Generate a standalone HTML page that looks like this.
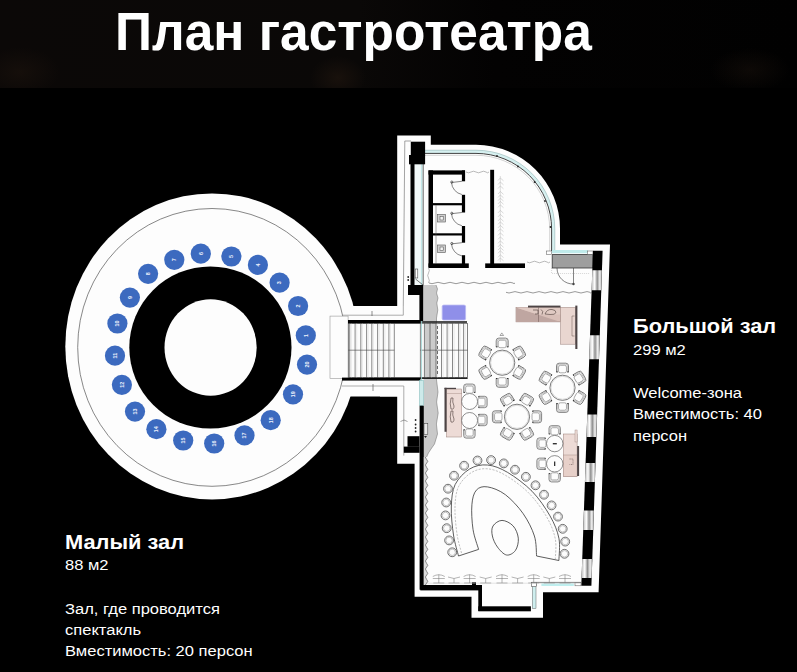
<!DOCTYPE html>
<html><head><meta charset="utf-8"><title>План гастротеатра</title>
<style>
html,body{margin:0;padding:0;background:#000;}
body{width:797px;height:672px;overflow:hidden;position:relative;font-family:"Liberation Sans",sans-serif;color:#fff;}
svg{position:absolute;left:0;top:0;}
.t{position:absolute;white-space:nowrap;transform-origin:0 0;}
#title{left:115px;top:2.2px;font-size:53px;font-weight:bold;line-height:60px;transform:scaleX(0.971);}
.h{font-size:20px;font-weight:bold;line-height:24px;transform:scaleX(1.09);}
.p{font-size:15.5px;line-height:21.3px;transform:scaleX(1.066);}
</style></head><body>
<svg width="797" height="672" viewBox="0 0 797 672" font-family="Liberation Sans, sans-serif">
<defs><linearGradient id="wg" x1="0" x2="1" y1="0" y2="0"><stop offset="0" stop-color="#bdbdbd"/><stop offset="0.3" stop-color="#ffffff"/><stop offset="0.55" stop-color="#8f8f8f"/><stop offset="0.8" stop-color="#f2f2f2"/><stop offset="1" stop-color="#a0a0a0"/></linearGradient><linearGradient id="hb" x1="0" x2="1" y1="0" y2="0"><stop offset="0" stop-color="#0b0807"/><stop offset="0.45" stop-color="#0a0807"/><stop offset="0.62" stop-color="#030202"/><stop offset="1" stop-color="#010101"/></linearGradient><radialGradient id="g1"><stop offset="0" stop-color="#1c130d"/><stop offset="1" stop-color="#1c130d" stop-opacity="0"/></radialGradient></defs>
<rect x="0" y="0" width="797" height="88" fill="url(#hb)"/><ellipse cx="338" cy="78" rx="28" ry="22" fill="url(#g1)" opacity="0.8"/><ellipse cx="20" cy="72" rx="40" ry="25" fill="url(#g1)" opacity="0.6"/><ellipse cx="750" cy="70" rx="40" ry="22" fill="url(#g1)" opacity="0.45"/><rect x="0" y="88" width="797" height="40" fill="#000"/>
<ellipse cx="212" cy="346.4" rx="146.7" ry="153" fill="#fdfdfd"/>
<rect x="330" y="306" width="100" height="90.5" fill="#fdfdfd"/>
<path d="M397.2 135.6 H430.8 V144.8 H476 A84 84 0 0 1 560 229 V244.4 H610 L598.6 592.2 H543 V617.8 H471.5 V596.7 H414.6 V463.8 H397.2 V396.6 H380 V306.4 H397.2 Z" fill="#fdfdfd"/>
<ellipse cx="212" cy="347.4" rx="134.3" ry="138.9" fill="none" stroke="#555" stroke-width="0.7"/>
<circle cx="210.4" cy="347.5" r="81.1" fill="#000"/>
<ellipse cx="210.6" cy="347.5" rx="46.1" ry="48.3" fill="#fdfdfd"/>
<circle cx="305.8" cy="335.4" r="10.1" fill="#3c6abf"/>
<text x="305.8" y="337.2" font-size="5.4" font-weight="bold" fill="#eef2fc" text-anchor="middle" transform="rotate(-90 305.8 335.4)">1</text>
<circle cx="298.1" cy="306" r="10.1" fill="#3c6abf"/>
<text x="298.1" y="307.8" font-size="5.4" font-weight="bold" fill="#eef2fc" text-anchor="middle" transform="rotate(-90 298.1 306)">2</text>
<circle cx="279.6" cy="282.7" r="10.1" fill="#3c6abf"/>
<text x="279.6" y="284.5" font-size="5.4" font-weight="bold" fill="#eef2fc" text-anchor="middle" transform="rotate(-90 279.6 282.7)">3</text>
<circle cx="257.9" cy="264.9" r="10.1" fill="#3c6abf"/>
<text x="257.9" y="266.7" font-size="5.4" font-weight="bold" fill="#eef2fc" text-anchor="middle" transform="rotate(-90 257.9 264.9)">4</text>
<circle cx="231.4" cy="256.5" r="10.1" fill="#3c6abf"/>
<text x="231.4" y="258.3" font-size="5.4" font-weight="bold" fill="#eef2fc" text-anchor="middle" transform="rotate(-90 231.4 256.5)">5</text>
<circle cx="200.8" cy="253.6" r="10.1" fill="#3c6abf"/>
<text x="200.8" y="255.4" font-size="5.4" font-weight="bold" fill="#eef2fc" text-anchor="middle" transform="rotate(-90 200.8 253.6)">6</text>
<circle cx="174.3" cy="259.8" r="10.1" fill="#3c6abf"/>
<text x="174.3" y="261.6" font-size="5.4" font-weight="bold" fill="#eef2fc" text-anchor="middle" transform="rotate(-90 174.3 259.8)">7</text>
<circle cx="148.1" cy="273.8" r="10.1" fill="#3c6abf"/>
<text x="148.1" y="275.6" font-size="5.4" font-weight="bold" fill="#eef2fc" text-anchor="middle" transform="rotate(-90 148.1 273.8)">8</text>
<circle cx="129.9" cy="297.6" r="10.1" fill="#3c6abf"/>
<text x="129.9" y="299.40000000000003" font-size="5.4" font-weight="bold" fill="#eef2fc" text-anchor="middle" transform="rotate(-90 129.9 297.6)">9</text>
<circle cx="117.4" cy="323.5" r="10.1" fill="#3c6abf"/>
<text x="117.4" y="325.3" font-size="5.4" font-weight="bold" fill="#eef2fc" text-anchor="middle" transform="rotate(-90 117.4 323.5)">10</text>
<circle cx="115" cy="355.7" r="10.1" fill="#3c6abf"/>
<text x="115" y="357.5" font-size="5.4" font-weight="bold" fill="#eef2fc" text-anchor="middle" transform="rotate(-90 115 355.7)">11</text>
<circle cx="121.9" cy="384.8" r="10.1" fill="#3c6abf"/>
<text x="121.9" y="386.6" font-size="5.4" font-weight="bold" fill="#eef2fc" text-anchor="middle" transform="rotate(-90 121.9 384.8)">12</text>
<circle cx="135" cy="411.6" r="10.1" fill="#3c6abf"/>
<text x="135" y="413.40000000000003" font-size="5.4" font-weight="bold" fill="#eef2fc" text-anchor="middle" transform="rotate(-90 135 411.6)">13</text>
<circle cx="156.4" cy="429.2" r="10.1" fill="#3c6abf"/>
<text x="156.4" y="431.0" font-size="5.4" font-weight="bold" fill="#eef2fc" text-anchor="middle" transform="rotate(-90 156.4 429.2)">14</text>
<circle cx="183.2" cy="440.5" r="10.1" fill="#3c6abf"/>
<text x="183.2" y="442.3" font-size="5.4" font-weight="bold" fill="#eef2fc" text-anchor="middle" transform="rotate(-90 183.2 440.5)">15</text>
<circle cx="214.2" cy="443.5" r="10.1" fill="#3c6abf"/>
<text x="214.2" y="445.3" font-size="5.4" font-weight="bold" fill="#eef2fc" text-anchor="middle" transform="rotate(-90 214.2 443.5)">16</text>
<circle cx="244.5" cy="435.4" r="10.1" fill="#3c6abf"/>
<text x="244.5" y="437.2" font-size="5.4" font-weight="bold" fill="#eef2fc" text-anchor="middle" transform="rotate(-90 244.5 435.4)">17</text>
<circle cx="270.7" cy="420.2" r="10.1" fill="#3c6abf"/>
<text x="270.7" y="422.0" font-size="5.4" font-weight="bold" fill="#eef2fc" text-anchor="middle" transform="rotate(-90 270.7 420.2)">18</text>
<circle cx="293" cy="394.3" r="10.1" fill="#3c6abf"/>
<text x="293" y="396.1" font-size="5.4" font-weight="bold" fill="#eef2fc" text-anchor="middle" transform="rotate(-90 293 394.3)">19</text>
<circle cx="307" cy="364.6" r="10.1" fill="#3c6abf"/>
<text x="307" y="366.40000000000003" font-size="5.4" font-weight="bold" fill="#eef2fc" text-anchor="middle" transform="rotate(-90 307 364.6)">20</text>
<path d="M403.3 306 L404.8 141 H411" fill="none" stroke="#7c7c7c" stroke-width="0.7"/>
<path d="M342 315.2 H403.3 V306" fill="none" stroke="#8a8a8a" stroke-width="0.7"/>
<path d="M342 386 H403.8 V455.6" fill="none" stroke="#8a8a8a" stroke-width="0.7"/>
<path d="M425 151.6 H476 A77.4 77.4 0 0 1 553.4 229 V251" fill="none" stroke="#d6f0f0" stroke-width="3"/>
<path d="M425 153.4 H476 A75.6 75.6 0 0 1 551.6 229 V251" fill="none" stroke="#2a2a2a" stroke-width="0.9"/>
<path d="M425 155.3 H476 A73.7 73.7 0 0 1 549.7 229 V251" fill="none" stroke="#aaa" stroke-width="0.5"/>
<path d="M425 150.2 H476 A78.8 78.8 0 0 1 554.8 229 V250" fill="none" stroke="#8aa" stroke-width="0.5"/>
<rect x="414.5" y="164" width="8.7" height="121" fill="#f1f8f8"/>
<path d="M421.6 164 V285" stroke="#c2e8e8" stroke-width="1.3"/>
<path d="M423.2 160 V286" stroke="#444" stroke-width="0.8"/>
<circle cx="497" cy="156" r="0.9" fill="#222"/>
<circle cx="518" cy="166.5" r="0.9" fill="#222"/>
<circle cx="534.6" cy="182" r="0.9" fill="#222"/>
<circle cx="545" cy="201" r="0.9" fill="#222"/>
<circle cx="550.5" cy="227" r="0.9" fill="#222"/>
<rect x="410.8" y="141.7" width="14.3" height="14" fill="#000"/>
<rect x="409" y="155" width="16.1" height="9.3" fill="#000"/>
<rect x="410.5" y="164" width="4" height="122" fill="#000"/>
<rect x="428.5" y="170.4" width="4.5" height="96.8" fill="#000"/>
<rect x="428.5" y="170.4" width="36.5" height="4.2" fill="#000"/>
<rect x="428.5" y="263.4" width="40.3" height="4.6" fill="#000"/>
<rect x="433" y="203.1" width="30" height="2.2" fill="#000"/>
<rect x="433" y="233.3" width="30" height="2.2" fill="#000"/>
<rect x="461.9" y="170.4" width="3.2" height="10.900000000000006" fill="#000"/>
<rect x="461.9" y="194.8" width="3.2" height="17.69999999999999" fill="#000"/>
<rect x="461.9" y="226" width="3.2" height="16.69999999999999" fill="#000"/>
<rect x="461.9" y="255.2" width="3.2" height="12.0" fill="#000"/>
<path d="M461.9 194.5 A13 13 0 0 1 451.5 182.5 L461.9 181.3" fill="none" stroke="#333" stroke-width="0.6"/>
<circle cx="451.8" cy="182.10000000000002" r="1.1" fill="none" stroke="#222" stroke-width="0.6"/>
<path d="M461.9 225.7 A13 13 0 0 1 451.5 213.7 L461.9 212.5" fill="none" stroke="#333" stroke-width="0.6"/>
<circle cx="451.8" cy="213.3" r="1.1" fill="none" stroke="#222" stroke-width="0.6"/>
<path d="M461.9 255.89999999999998 A13 13 0 0 1 451.5 243.89999999999998 L461.9 242.7" fill="none" stroke="#333" stroke-width="0.6"/>
<circle cx="451.8" cy="243.5" r="1.1" fill="none" stroke="#222" stroke-width="0.6"/>
<rect x="437.5" y="214.5" width="8" height="7.5" fill="#cfcfcf" stroke="#555" stroke-width="0.6"/>
<rect x="440" y="216.5" width="3.2" height="3.5" fill="#f4f4f4" stroke="#444" stroke-width="0.5"/>
<rect x="437.5" y="245" width="8" height="7.5" fill="#cfcfcf" stroke="#555" stroke-width="0.6"/>
<rect x="440" y="247" width="3.2" height="3.5" fill="#f4f4f4" stroke="#444" stroke-width="0.5"/>
<path d="M436 205.3 V263.9" stroke="#555" stroke-width="0.5"/>
<rect x="490.2" y="169.8" width="3.9" height="97.4" fill="#000"/>
<rect x="485.2" y="263.4" width="39.8" height="4.6" fill="#000"/>
<path d="M500.3 176 V262" stroke="#bbb" stroke-width="0.5"/>
<path d="M498 180.5 L500.3 178.0 L503.5 180.8 M498 184.5 L500.3 182.0 L503.5 184.8 M498 188.5 L500.3 186.0 L503.5 188.8 M498 194.0 L500.3 191.5 L503.5 194.3 M498 197.5 L500.3 195.0 L503.5 197.8 M498 200.7 L500.3 198.2 L503.5 201.0 M498 203.9 L500.3 201.4 L503.5 204.2 M498 207.4 L500.3 204.9 L503.5 207.7 M498 212.9 L500.3 210.4 L503.5 213.2 M498 216.9 L500.3 214.4 L503.5 217.2 M498 220.9 L500.3 218.4 L503.5 221.2 M498 224.4 L500.3 221.9 L503.5 224.7 M498 227.9 L500.3 225.4 L503.5 228.2 M498 231.4 L500.3 228.9 L503.5 231.7 M498 235.4 L500.3 232.9 L503.5 235.7 M498 239.4 L500.3 236.9 L503.5 239.7 M498 243.4 L500.3 240.9 L503.5 243.7 M498 246.9 L500.3 244.4 L503.5 247.2 M498 250.1 L500.3 247.6 L503.5 250.4 M498 253.3 L500.3 250.8 L503.5 253.6 M498 257.3 L500.3 254.8 L503.5 257.6 M498 260.5 L500.3 258.0 L503.5 260.8 " fill="none" stroke="#b4b4b4" stroke-width="0.5"/>
<path d="M466 172 Q468.5 173.6 471.0 172 Q473.5 170.4 476.0 172 Q478.5 173.6 481.0 172 Q483.5 170.4 486.0 172 Q487.5 173.6 489.0 172" fill="none" stroke="#777" stroke-width="0.5"/>
<path d="M527 262 Q529.5 263.6 532.0 262 Q534.5 260.4 537.0 262 Q539.5 263.6 542.0 262 Q544.5 260.4 547.0 262 Q548.5 263.6 550.0 262" fill="none" stroke="#777" stroke-width="0.5"/>
<path d="M429 283 Q432.0 284.4 435.0 283 Q438.0 281.6 441.0 283 Q444.0 284.4 447.0 283 Q450.0 281.6 453.0 283 Q456.0 284.4 459.0 283 Q462.0 281.6 465.0 283 Q468.0 284.4 471.0 283 Q474.0 281.6 477.0 283 Q480.0 284.4 483.0 283 Q486.0 281.6 489.0 283 Q492.0 284.4 495.0 283 Q498.0 281.6 501.0 283 Q504.0 284.4 507.0 283 Q510.0 281.6 513.0 283 Q514.0 284.4 515.0 283" fill="none" stroke="#555" stroke-width="0.6"/>
<path d="M506 292.3 Q509.0 293.7 512.0 292.3 Q515.0 290.9 518.0 292.3 Q521.0 293.7 524.0 292.3 Q527.0 290.9 530.0 292.3 Q533.0 293.7 536.0 292.3 Q539.0 290.9 542.0 292.3 Q545.0 293.7 548.0 292.3 Q551.0 290.9 554.0 292.3 Q557.0 293.7 560.0 292.3 Q563.0 290.9 566.0 292.3 Q569.0 293.7 572.0 292.3 Q575.0 290.9 578.0 292.3 Q581.0 293.7 584.0 292.3 Q587.0 290.9 590.0 292.3 Q590.8 293.7 591.5 292.3" fill="none" stroke="#555" stroke-width="0.6"/>
<path d="M428.5 268 Q430.1 270.5 428.5 273.0 Q426.9 275.5 428.5 278.0 Q430.1 280.5 428.5 283.0" fill="none" stroke="#777" stroke-width="0.5"/>
<rect x="552" y="250" width="36" height="3.2" fill="#bfeaea"/>
<rect x="552.2" y="254.6" width="40.8" height="13.4" fill="#9e9e9e" stroke="#333" stroke-width="0.8"/>
<rect x="587.5" y="251" width="5.5" height="3.4" fill="#fff" stroke="#555" stroke-width="0.5"/>
<rect x="546.5" y="251" width="5" height="3.4" fill="#fff" stroke="#555" stroke-width="0.5"/>
<path d="M557 268 A16 16 0 0 0 573.5 284 V268" fill="none" stroke="#333" stroke-width="0.6"/>
<circle cx="573.5" cy="284" r="1.2" fill="#444"/>
<path d="M551.6 268 V273.5 H590" fill="none" stroke="#999" stroke-width="0.4" stroke-dasharray="1 1"/>
<path d="M593.0 250.8 L602.6 250.8 L591.4 585.8 L581.3 585.8 Z" fill="#000"/>
<path d="M592.3 270.2 L601.9 270.2 L601.3 290.3 L591.6 290.3 Z" fill="url(#wg)"/>
<path d="M590.0 335.2 L599.8 335.2 L599.0 359.3 L589.2 359.3 Z" fill="url(#wg)"/>
<path d="M587.3 414.5 L597.1 414.5 L596.4 437 L586.5 437 Z" fill="url(#wg)"/>
<path d="M585.6 463 L595.5 463 L594.9 482 L584.9 482 Z" fill="url(#wg)"/>
<path d="M583.9 510.5 L593.9 510.5 L593.3 530 L583.2 530 Z" fill="url(#wg)"/>
<path d="M582.2 559 L592.3 559 L591.7 578 L581.6 578 Z" fill="url(#wg)"/>
<path d="M423.2 285 H436 L437.5 289 L436.5 293 L438 298 L436.8 303 L437.8 310 L436.5 318 V380 L438 392 L436.6 402 L438.2 413 L436.4 424 L437.5 434 L434.5 444 L431 449 L428.4 453 L426.6 457 L423.9 458 Z" fill="#c9c9c9"/>
<path d="M436 285 L437.5 289 L436.5 293 L438 298 L436.8 303 L437.8 310 L436.5 318 V380 L438 392 L436.6 402 L438.2 413 L436.4 424 L437.5 434 L434.5 444 L431 449 L428.4 453 L426.6 457" fill="none" stroke="#666" stroke-width="0.5"/>
<rect x="408" y="285" width="15.2" height="10" fill="#000"/>
<rect x="419.4" y="295" width="3.8" height="26" fill="#000"/>
<rect x="415.2" y="269" width="2.6" height="9" fill="#fff" stroke="#333" stroke-width="0.5"/>
<path d="M415.5 279 L423 285" stroke="#222" stroke-width="0.6"/>
<circle cx="408.2" cy="277" r="0.9" fill="#222"/><circle cx="408.2" cy="280" r="0.9" fill="#222"/>
<rect x="442.2" y="305.1" width="23.4" height="14.9" rx="1.5" fill="#8f8fe9" stroke="#b9b9f3" stroke-width="0.8"/>
<rect x="330" y="316.1" width="18.1" height="62.3" fill="#fdfdfd" stroke="#999" stroke-width="0.6"/>
<rect x="348" y="323" width="119.6" height="55" fill="#fcfcfc"/>
<rect x="424.4" y="323" width="12.2" height="55" fill="#cbcbcb"/>
<rect x="348" y="320" width="72.6" height="3.4" fill="#000"/>
<rect x="420" y="321.2" width="47" height="1.6" fill="#222"/>
<rect x="342" y="377.6" width="78.4" height="3" fill="#000"/>
<rect x="420" y="377.4" width="47.6" height="1.6" fill="#222"/>
<rect x="348.3" y="323.3" width="119.3" height="54.4" fill="none" stroke="#333" stroke-width="0.6"/>
<path d="M349.7 323.4 V377.6 M355.1 323.4 V377.6 M360.8 323.4 V377.6 M366.6 323.4 V377.6 M371.8 323.4 V377.6 M377.6 323.4 V377.6 M383.3 323.4 V377.6 M388.9 323.4 V377.6 M394.3 323.4 V377.6 M420.4 323.4 V377.6 M424.4 323.4 V377.6 M430 323.4 V377.6 M436 323.4 V377.6 M441.5 323.4 V377.6 M447.1 323.4 V377.6 M452.5 323.4 V377.6 M458.6 323.4 V377.6 M463.6 323.4 V377.6 " stroke="#3a3a3a" stroke-width="0.6"/>
<path d="M351.3 323.4 V377.6 M356.7 323.4 V377.6 M362.4 323.4 V377.6 M368.2 323.4 V377.6 M373.4 323.4 V377.6 M379.2 323.4 V377.6 M384.9 323.4 V377.6 M390.5 323.4 V377.6 M426.0 323.4 V377.6 M431.6 323.4 V377.6 M437.6 323.4 V377.6 M443.1 323.4 V377.6 M448.7 323.4 V377.6 M454.1 323.4 V377.6 M460.2 323.4 V377.6 M465.2 323.4 V377.6 " stroke="#cfcfcf" stroke-width="0.4"/>
<path d="M348.3 350.2 H394.3 M420.4 350.2 H467.6" stroke="#444" stroke-width="0.6"/>
<path d="M421.6 321 V405.7" stroke="#9cd3d3" stroke-width="0.9"/>
<path d="M437.5 326 V375" stroke="#333" stroke-width="0.7" stroke-dasharray="3 2"/>
<path d="M372 311 V316 M373 391 V384" stroke="#444" stroke-width="0.6"/>
<rect x="419.4" y="380.4" width="4.1" height="25.3" fill="#cdeaea" stroke="#6aa" stroke-width="0.4"/>
<rect x="419.6" y="405.7" width="4.2" height="184" fill="#000"/>
<rect x="407.5" y="436.2" width="12" height="10.6" fill="#000"/>
<rect x="403.8" y="446.6" width="15.8" height="6.2" fill="#000"/>
<rect x="424" y="423.5" width="3.8" height="11" fill="#e8e8e8" stroke="#333" stroke-width="0.5"/>
<path d="M424 436 h3 l-1.5 2z" fill="#222"/>
<circle cx="415.6" cy="420" r="0.9" fill="#222"/>
<circle cx="415.6" cy="424.5" r="0.9" fill="#222"/>
<circle cx="415.6" cy="428" r="0.9" fill="#222"/>
<circle cx="415.6" cy="431.5" r="0.9" fill="#222"/>
<path d="M400.5 421.5 L404 420 L407.5 421.5" fill="none" stroke="#444" stroke-width="0.5"/>
<path d="M425.2 457 Q426.8 459.8 427.8 461.4 L425.4 465.0 Q426.8 467.8 427.8 469.4 L425.4 473.0 Q426.8 475.8 427.8 477.4 L425.4 481.0 Q426.8 483.8 427.8 485.4 L425.4 489.0 Q426.8 491.8 427.8 493.4 L425.4 497.0 Q426.8 499.8 427.8 501.4 L425.4 505.0 Q426.8 507.8 427.8 509.4 L425.4 513.0 Q426.8 515.8 427.8 517.4 L425.4 521.0 Q426.8 523.8 427.8 525.4 L425.4 529.0 Q426.8 531.8 427.8 533.4 L425.4 537.0 Q426.8 539.8 427.8 541.4 L425.4 545.0 Q426.8 547.8 427.8 549.4 L425.4 553.0 Q426.8 555.8 427.8 557.4 L425.4 561.0 Q426.8 563.8 427.8 565.4 L425.4 569.0 Q426.8 571.8 427.8 573.4 L425.4 577.0 Q426.8 579.8 427.8 581.4 L425.4 585.0 H423.8 V457 Z" fill="#dcdcdc" stroke="none"/>
<path d="M425.2 457 Q426.8 459.8 427.8 461.4 L425.4 465.0 Q426.8 467.8 427.8 469.4 L425.4 473.0 Q426.8 475.8 427.8 477.4 L425.4 481.0 Q426.8 483.8 427.8 485.4 L425.4 489.0 Q426.8 491.8 427.8 493.4 L425.4 497.0 Q426.8 499.8 427.8 501.4 L425.4 505.0 Q426.8 507.8 427.8 509.4 L425.4 513.0 Q426.8 515.8 427.8 517.4 L425.4 521.0 Q426.8 523.8 427.8 525.4 L425.4 529.0 Q426.8 531.8 427.8 533.4 L425.4 537.0 Q426.8 539.8 427.8 541.4 L425.4 545.0 Q426.8 547.8 427.8 549.4 L425.4 553.0 Q426.8 555.8 427.8 557.4 L425.4 561.0 Q426.8 563.8 427.8 565.4 L425.4 569.0 Q426.8 571.8 427.8 573.4 L425.4 577.0 Q426.8 579.8 427.8 581.4 L425.4 585.0" fill="none" stroke="#444" stroke-width="0.6"/>
<rect x="420.3" y="585" width="61" height="5.4" fill="#000"/>
<rect x="478.3" y="585" width="3.7" height="26" fill="#000"/>
<rect x="478.3" y="606.3" width="52.6" height="5" fill="#000"/>
<rect x="472" y="582.3" width="4" height="3" fill="#000"/>
<rect x="532.4" y="584" width="3.6" height="24.5" fill="#cfeeee" stroke="#444" stroke-width="0.4"/>
<rect x="541.4" y="583.4" width="32.4" height="2.6" fill="#bfeeee"/>
<path d="M531.5 582.4 H581" stroke="#333" stroke-width="0.6"/>
<rect x="531.5" y="582.4" width="5" height="4.2" fill="#fff" stroke="#333" stroke-width="0.5"/>
<rect x="575" y="582.8" width="6" height="3" fill="#fff" stroke="#555" stroke-width="0.5"/>
<circle cx="502.2" cy="362.7" r="12.6" fill="#fdfdfd" stroke="#444" stroke-width="0.7"/>
<circle cx="502.2" cy="362.7" r="11.5" fill="none" stroke="#aaa" stroke-width="0.4"/>
<g transform="translate(502.2 343.5) rotate(-180.0) scale(1.2)"><rect x="-3.3" y="-3.5" width="6.6" height="6.2" rx="1.5" fill="#fdfdfd" stroke="#6a6a6a" stroke-width="0.45"/><path d="M-5 -2.8 V2.2 Q-5 4.5 -2.8 4.5 H2.8 Q5 4.5 5 2.2 V-2.8" fill="none" stroke="#444" stroke-width="0.55"/><path d="M-4.1 -2.8 V2 Q-4.1 3.6 -2.6 3.6 H2.6 Q4.1 3.6 4.1 2 V-2.8" fill="none" stroke="#8a8a8a" stroke-width="0.4"/><path d="M-5.2 -2.8 H-3.9 M5.2 -2.8 H3.9" stroke="#222" stroke-width="0.8"/></g>
<g transform="translate(518.8 353.1) rotate(-120.0) scale(1.2)"><rect x="-3.3" y="-3.5" width="6.6" height="6.2" rx="1.5" fill="#fdfdfd" stroke="#6a6a6a" stroke-width="0.45"/><path d="M-5 -2.8 V2.2 Q-5 4.5 -2.8 4.5 H2.8 Q5 4.5 5 2.2 V-2.8" fill="none" stroke="#444" stroke-width="0.55"/><path d="M-4.1 -2.8 V2 Q-4.1 3.6 -2.6 3.6 H2.6 Q4.1 3.6 4.1 2 V-2.8" fill="none" stroke="#8a8a8a" stroke-width="0.4"/><path d="M-5.2 -2.8 H-3.9 M5.2 -2.8 H3.9" stroke="#222" stroke-width="0.8"/></g>
<g transform="translate(518.8 372.3) rotate(-60.0) scale(1.2)"><rect x="-3.3" y="-3.5" width="6.6" height="6.2" rx="1.5" fill="#fdfdfd" stroke="#6a6a6a" stroke-width="0.45"/><path d="M-5 -2.8 V2.2 Q-5 4.5 -2.8 4.5 H2.8 Q5 4.5 5 2.2 V-2.8" fill="none" stroke="#444" stroke-width="0.55"/><path d="M-4.1 -2.8 V2 Q-4.1 3.6 -2.6 3.6 H2.6 Q4.1 3.6 4.1 2 V-2.8" fill="none" stroke="#8a8a8a" stroke-width="0.4"/><path d="M-5.2 -2.8 H-3.9 M5.2 -2.8 H3.9" stroke="#222" stroke-width="0.8"/></g>
<g transform="translate(502.2 381.9) rotate(0.0) scale(1.2)"><rect x="-3.3" y="-3.5" width="6.6" height="6.2" rx="1.5" fill="#fdfdfd" stroke="#6a6a6a" stroke-width="0.45"/><path d="M-5 -2.8 V2.2 Q-5 4.5 -2.8 4.5 H2.8 Q5 4.5 5 2.2 V-2.8" fill="none" stroke="#444" stroke-width="0.55"/><path d="M-4.1 -2.8 V2 Q-4.1 3.6 -2.6 3.6 H2.6 Q4.1 3.6 4.1 2 V-2.8" fill="none" stroke="#8a8a8a" stroke-width="0.4"/><path d="M-5.2 -2.8 H-3.9 M5.2 -2.8 H3.9" stroke="#222" stroke-width="0.8"/></g>
<g transform="translate(485.6 372.3) rotate(60.0) scale(1.2)"><rect x="-3.3" y="-3.5" width="6.6" height="6.2" rx="1.5" fill="#fdfdfd" stroke="#6a6a6a" stroke-width="0.45"/><path d="M-5 -2.8 V2.2 Q-5 4.5 -2.8 4.5 H2.8 Q5 4.5 5 2.2 V-2.8" fill="none" stroke="#444" stroke-width="0.55"/><path d="M-4.1 -2.8 V2 Q-4.1 3.6 -2.6 3.6 H2.6 Q4.1 3.6 4.1 2 V-2.8" fill="none" stroke="#8a8a8a" stroke-width="0.4"/><path d="M-5.2 -2.8 H-3.9 M5.2 -2.8 H3.9" stroke="#222" stroke-width="0.8"/></g>
<g transform="translate(485.6 353.1) rotate(120.0) scale(1.2)"><rect x="-3.3" y="-3.5" width="6.6" height="6.2" rx="1.5" fill="#fdfdfd" stroke="#6a6a6a" stroke-width="0.45"/><path d="M-5 -2.8 V2.2 Q-5 4.5 -2.8 4.5 H2.8 Q5 4.5 5 2.2 V-2.8" fill="none" stroke="#444" stroke-width="0.55"/><path d="M-4.1 -2.8 V2 Q-4.1 3.6 -2.6 3.6 H2.6 Q4.1 3.6 4.1 2 V-2.8" fill="none" stroke="#8a8a8a" stroke-width="0.4"/><path d="M-5.2 -2.8 H-3.9 M5.2 -2.8 H3.9" stroke="#222" stroke-width="0.8"/></g>
<circle cx="562.5" cy="387.8" r="12.6" fill="#fdfdfd" stroke="#444" stroke-width="0.7"/>
<circle cx="562.5" cy="387.8" r="11.5" fill="none" stroke="#aaa" stroke-width="0.4"/>
<g transform="translate(562.5 368.6) rotate(-180.0) scale(1.2)"><rect x="-3.3" y="-3.5" width="6.6" height="6.2" rx="1.5" fill="#fdfdfd" stroke="#6a6a6a" stroke-width="0.45"/><path d="M-5 -2.8 V2.2 Q-5 4.5 -2.8 4.5 H2.8 Q5 4.5 5 2.2 V-2.8" fill="none" stroke="#444" stroke-width="0.55"/><path d="M-4.1 -2.8 V2 Q-4.1 3.6 -2.6 3.6 H2.6 Q4.1 3.6 4.1 2 V-2.8" fill="none" stroke="#8a8a8a" stroke-width="0.4"/><path d="M-5.2 -2.8 H-3.9 M5.2 -2.8 H3.9" stroke="#222" stroke-width="0.8"/></g>
<g transform="translate(579.1 378.2) rotate(-120.0) scale(1.2)"><rect x="-3.3" y="-3.5" width="6.6" height="6.2" rx="1.5" fill="#fdfdfd" stroke="#6a6a6a" stroke-width="0.45"/><path d="M-5 -2.8 V2.2 Q-5 4.5 -2.8 4.5 H2.8 Q5 4.5 5 2.2 V-2.8" fill="none" stroke="#444" stroke-width="0.55"/><path d="M-4.1 -2.8 V2 Q-4.1 3.6 -2.6 3.6 H2.6 Q4.1 3.6 4.1 2 V-2.8" fill="none" stroke="#8a8a8a" stroke-width="0.4"/><path d="M-5.2 -2.8 H-3.9 M5.2 -2.8 H3.9" stroke="#222" stroke-width="0.8"/></g>
<g transform="translate(579.1 397.4) rotate(-60.0) scale(1.2)"><rect x="-3.3" y="-3.5" width="6.6" height="6.2" rx="1.5" fill="#fdfdfd" stroke="#6a6a6a" stroke-width="0.45"/><path d="M-5 -2.8 V2.2 Q-5 4.5 -2.8 4.5 H2.8 Q5 4.5 5 2.2 V-2.8" fill="none" stroke="#444" stroke-width="0.55"/><path d="M-4.1 -2.8 V2 Q-4.1 3.6 -2.6 3.6 H2.6 Q4.1 3.6 4.1 2 V-2.8" fill="none" stroke="#8a8a8a" stroke-width="0.4"/><path d="M-5.2 -2.8 H-3.9 M5.2 -2.8 H3.9" stroke="#222" stroke-width="0.8"/></g>
<g transform="translate(562.5 407.0) rotate(0.0) scale(1.2)"><rect x="-3.3" y="-3.5" width="6.6" height="6.2" rx="1.5" fill="#fdfdfd" stroke="#6a6a6a" stroke-width="0.45"/><path d="M-5 -2.8 V2.2 Q-5 4.5 -2.8 4.5 H2.8 Q5 4.5 5 2.2 V-2.8" fill="none" stroke="#444" stroke-width="0.55"/><path d="M-4.1 -2.8 V2 Q-4.1 3.6 -2.6 3.6 H2.6 Q4.1 3.6 4.1 2 V-2.8" fill="none" stroke="#8a8a8a" stroke-width="0.4"/><path d="M-5.2 -2.8 H-3.9 M5.2 -2.8 H3.9" stroke="#222" stroke-width="0.8"/></g>
<g transform="translate(545.9 397.4) rotate(60.0) scale(1.2)"><rect x="-3.3" y="-3.5" width="6.6" height="6.2" rx="1.5" fill="#fdfdfd" stroke="#6a6a6a" stroke-width="0.45"/><path d="M-5 -2.8 V2.2 Q-5 4.5 -2.8 4.5 H2.8 Q5 4.5 5 2.2 V-2.8" fill="none" stroke="#444" stroke-width="0.55"/><path d="M-4.1 -2.8 V2 Q-4.1 3.6 -2.6 3.6 H2.6 Q4.1 3.6 4.1 2 V-2.8" fill="none" stroke="#8a8a8a" stroke-width="0.4"/><path d="M-5.2 -2.8 H-3.9 M5.2 -2.8 H3.9" stroke="#222" stroke-width="0.8"/></g>
<g transform="translate(545.9 378.2) rotate(120.0) scale(1.2)"><rect x="-3.3" y="-3.5" width="6.6" height="6.2" rx="1.5" fill="#fdfdfd" stroke="#6a6a6a" stroke-width="0.45"/><path d="M-5 -2.8 V2.2 Q-5 4.5 -2.8 4.5 H2.8 Q5 4.5 5 2.2 V-2.8" fill="none" stroke="#444" stroke-width="0.55"/><path d="M-4.1 -2.8 V2 Q-4.1 3.6 -2.6 3.6 H2.6 Q4.1 3.6 4.1 2 V-2.8" fill="none" stroke="#8a8a8a" stroke-width="0.4"/><path d="M-5.2 -2.8 H-3.9 M5.2 -2.8 H3.9" stroke="#222" stroke-width="0.8"/></g>
<circle cx="517" cy="416.8" r="12.6" fill="#fdfdfd" stroke="#444" stroke-width="0.7"/>
<circle cx="517" cy="416.8" r="11.5" fill="none" stroke="#aaa" stroke-width="0.4"/>
<g transform="translate(507.4 400.2) rotate(-210.0) scale(1.2)"><rect x="-3.3" y="-3.5" width="6.6" height="6.2" rx="1.5" fill="#fdfdfd" stroke="#6a6a6a" stroke-width="0.45"/><path d="M-5 -2.8 V2.2 Q-5 4.5 -2.8 4.5 H2.8 Q5 4.5 5 2.2 V-2.8" fill="none" stroke="#444" stroke-width="0.55"/><path d="M-4.1 -2.8 V2 Q-4.1 3.6 -2.6 3.6 H2.6 Q4.1 3.6 4.1 2 V-2.8" fill="none" stroke="#8a8a8a" stroke-width="0.4"/><path d="M-5.2 -2.8 H-3.9 M5.2 -2.8 H3.9" stroke="#222" stroke-width="0.8"/></g>
<g transform="translate(526.6 400.2) rotate(-150.0) scale(1.2)"><rect x="-3.3" y="-3.5" width="6.6" height="6.2" rx="1.5" fill="#fdfdfd" stroke="#6a6a6a" stroke-width="0.45"/><path d="M-5 -2.8 V2.2 Q-5 4.5 -2.8 4.5 H2.8 Q5 4.5 5 2.2 V-2.8" fill="none" stroke="#444" stroke-width="0.55"/><path d="M-4.1 -2.8 V2 Q-4.1 3.6 -2.6 3.6 H2.6 Q4.1 3.6 4.1 2 V-2.8" fill="none" stroke="#8a8a8a" stroke-width="0.4"/><path d="M-5.2 -2.8 H-3.9 M5.2 -2.8 H3.9" stroke="#222" stroke-width="0.8"/></g>
<g transform="translate(536.2 416.8) rotate(-90.0) scale(1.2)"><rect x="-3.3" y="-3.5" width="6.6" height="6.2" rx="1.5" fill="#fdfdfd" stroke="#6a6a6a" stroke-width="0.45"/><path d="M-5 -2.8 V2.2 Q-5 4.5 -2.8 4.5 H2.8 Q5 4.5 5 2.2 V-2.8" fill="none" stroke="#444" stroke-width="0.55"/><path d="M-4.1 -2.8 V2 Q-4.1 3.6 -2.6 3.6 H2.6 Q4.1 3.6 4.1 2 V-2.8" fill="none" stroke="#8a8a8a" stroke-width="0.4"/><path d="M-5.2 -2.8 H-3.9 M5.2 -2.8 H3.9" stroke="#222" stroke-width="0.8"/></g>
<g transform="translate(526.6 433.4) rotate(-30.0) scale(1.2)"><rect x="-3.3" y="-3.5" width="6.6" height="6.2" rx="1.5" fill="#fdfdfd" stroke="#6a6a6a" stroke-width="0.45"/><path d="M-5 -2.8 V2.2 Q-5 4.5 -2.8 4.5 H2.8 Q5 4.5 5 2.2 V-2.8" fill="none" stroke="#444" stroke-width="0.55"/><path d="M-4.1 -2.8 V2 Q-4.1 3.6 -2.6 3.6 H2.6 Q4.1 3.6 4.1 2 V-2.8" fill="none" stroke="#8a8a8a" stroke-width="0.4"/><path d="M-5.2 -2.8 H-3.9 M5.2 -2.8 H3.9" stroke="#222" stroke-width="0.8"/></g>
<g transform="translate(507.4 433.4) rotate(30.0) scale(1.2)"><rect x="-3.3" y="-3.5" width="6.6" height="6.2" rx="1.5" fill="#fdfdfd" stroke="#6a6a6a" stroke-width="0.45"/><path d="M-5 -2.8 V2.2 Q-5 4.5 -2.8 4.5 H2.8 Q5 4.5 5 2.2 V-2.8" fill="none" stroke="#444" stroke-width="0.55"/><path d="M-4.1 -2.8 V2 Q-4.1 3.6 -2.6 3.6 H2.6 Q4.1 3.6 4.1 2 V-2.8" fill="none" stroke="#8a8a8a" stroke-width="0.4"/><path d="M-5.2 -2.8 H-3.9 M5.2 -2.8 H3.9" stroke="#222" stroke-width="0.8"/></g>
<g transform="translate(497.8 416.8) rotate(90.0) scale(1.2)"><rect x="-3.3" y="-3.5" width="6.6" height="6.2" rx="1.5" fill="#fdfdfd" stroke="#6a6a6a" stroke-width="0.45"/><path d="M-5 -2.8 V2.2 Q-5 4.5 -2.8 4.5 H2.8 Q5 4.5 5 2.2 V-2.8" fill="none" stroke="#444" stroke-width="0.55"/><path d="M-4.1 -2.8 V2 Q-4.1 3.6 -2.6 3.6 H2.6 Q4.1 3.6 4.1 2 V-2.8" fill="none" stroke="#8a8a8a" stroke-width="0.4"/><path d="M-5.2 -2.8 H-3.9 M5.2 -2.8 H3.9" stroke="#222" stroke-width="0.8"/></g>
<path d="M500 335.5 l1.8 -2.6 l1.8 2.6 z" fill="none" stroke="#555" stroke-width="0.5"/>
<rect x="516" y="307.4" width="44.5" height="14.5" fill="#d9c0b9" stroke="#8a6f6a" stroke-width="0.5"/>
<path d="M516 307.4 L560.5 321.9 H516 Z" fill="#bfa6a1"/>
<path d="M516 307.4 L538 314.5 H560.5 V307.4 Z" fill="#e0cac3"/>
<path d="M538.5 307.4 V321.9" stroke="#6b5550" stroke-width="0.5"/>
<path d="M533 310 h5 v4 h-3 M541 309.5 q3 1.5 1 5 M545 314 q2 -5 7 -4.5 q4 .5 4 3 q-1 2.5 -6 2 z" fill="none" stroke="#4a3b38" stroke-width="0.6"/>
<rect x="528" y="305.6" width="32.5" height="1.9" fill="#4d4445"/>
<rect x="560.5" y="307.4" width="15" height="36.8" fill="#e9d6d0" stroke="#9a807a" stroke-width="0.5"/>
<path d="M574.5 316 H572 V336 H574.5" fill="none" stroke="#6b5550" stroke-width="0.5"/>
<rect x="575.3" y="305.6" width="2.1" height="43.4" fill="#4d4445"/>
<rect x="446.5" y="389" width="15.2" height="48" fill="#eddbd6" stroke="#9a807a" stroke-width="0.5"/>
<rect x="444.5" y="387.8" width="2.1" height="44" fill="#4d4445"/>
<rect x="444.5" y="387.8" width="11.5" height="1.3" fill="#4d4445"/>
<path d="M446.6 393.5 H462" stroke="#9a807a" stroke-width="0.4"/>
<path d="M451 398 q-1.5 6 0 11 q3 1 3 -3 q-2 -4 -1 -8 z M451 411 q-1.5 6 0 11 q3 1 3 -3 q-2 -4 -1 -8 z" fill="none" stroke="#4a3b38" stroke-width="0.6"/>
<circle cx="469.6" cy="401.5" r="8" fill="#fdfdfd" stroke="#444" stroke-width="0.6"/>
<circle cx="469.6" cy="420.5" r="8" fill="#fdfdfd" stroke="#444" stroke-width="0.6"/>
<g transform="translate(469.4 389.2) rotate(-180.0) scale(1.14)"><rect x="-3.3" y="-3.5" width="6.6" height="6.2" rx="1.5" fill="#fdfdfd" stroke="#6a6a6a" stroke-width="0.45"/><path d="M-5 -2.8 V2.2 Q-5 4.5 -2.8 4.5 H2.8 Q5 4.5 5 2.2 V-2.8" fill="none" stroke="#444" stroke-width="0.55"/><path d="M-4.1 -2.8 V2 Q-4.1 3.6 -2.6 3.6 H2.6 Q4.1 3.6 4.1 2 V-2.8" fill="none" stroke="#8a8a8a" stroke-width="0.4"/><path d="M-5.2 -2.8 H-3.9 M5.2 -2.8 H3.9" stroke="#222" stroke-width="0.8"/></g>
<g transform="translate(482.0 402.0) rotate(-90.0) scale(1.14)"><rect x="-3.3" y="-3.5" width="6.6" height="6.2" rx="1.5" fill="#fdfdfd" stroke="#6a6a6a" stroke-width="0.45"/><path d="M-5 -2.8 V2.2 Q-5 4.5 -2.8 4.5 H2.8 Q5 4.5 5 2.2 V-2.8" fill="none" stroke="#444" stroke-width="0.55"/><path d="M-4.1 -2.8 V2 Q-4.1 3.6 -2.6 3.6 H2.6 Q4.1 3.6 4.1 2 V-2.8" fill="none" stroke="#8a8a8a" stroke-width="0.4"/><path d="M-5.2 -2.8 H-3.9 M5.2 -2.8 H3.9" stroke="#222" stroke-width="0.8"/></g>
<g transform="translate(482.0 420.0) rotate(-90.0) scale(1.14)"><rect x="-3.3" y="-3.5" width="6.6" height="6.2" rx="1.5" fill="#fdfdfd" stroke="#6a6a6a" stroke-width="0.45"/><path d="M-5 -2.8 V2.2 Q-5 4.5 -2.8 4.5 H2.8 Q5 4.5 5 2.2 V-2.8" fill="none" stroke="#444" stroke-width="0.55"/><path d="M-4.1 -2.8 V2 Q-4.1 3.6 -2.6 3.6 H2.6 Q4.1 3.6 4.1 2 V-2.8" fill="none" stroke="#8a8a8a" stroke-width="0.4"/><path d="M-5.2 -2.8 H-3.9 M5.2 -2.8 H3.9" stroke="#222" stroke-width="0.8"/></g>
<g transform="translate(469.4 433.0) rotate(0.0) scale(1.14)"><rect x="-3.3" y="-3.5" width="6.6" height="6.2" rx="1.5" fill="#fdfdfd" stroke="#6a6a6a" stroke-width="0.45"/><path d="M-5 -2.8 V2.2 Q-5 4.5 -2.8 4.5 H2.8 Q5 4.5 5 2.2 V-2.8" fill="none" stroke="#444" stroke-width="0.55"/><path d="M-4.1 -2.8 V2 Q-4.1 3.6 -2.6 3.6 H2.6 Q4.1 3.6 4.1 2 V-2.8" fill="none" stroke="#8a8a8a" stroke-width="0.4"/><path d="M-5.2 -2.8 H-3.9 M5.2 -2.8 H3.9" stroke="#222" stroke-width="0.8"/></g>
<rect x="563.3" y="434" width="13.8" height="42.6" fill="#eddbd6" stroke="#9a807a" stroke-width="0.5"/>
<rect x="563.3" y="455" width="13.8" height="21.6" fill="#e7d0c9" stroke="#9a807a" stroke-width="0.4"/>
<rect x="575" y="430" width="2.1" height="12" fill="#eddbd6" stroke="#9a807a" stroke-width="0.4"/>
<rect x="577.1" y="446" width="2" height="30" fill="#4d4445"/>
<path d="M569.5 459 h3.5 v5.5 h-3.5" fill="none" stroke="#4a3b38" stroke-width="0.5" stroke-dasharray="1.2 0.8"/>
<circle cx="554.7" cy="443.6" r="8.2" fill="#fdfdfd" stroke="#444" stroke-width="0.6"/>
<circle cx="554.7" cy="463.8" r="8.2" fill="#fdfdfd" stroke="#444" stroke-width="0.6"/>
<rect x="552.8" y="443" width="4" height="1.4" fill="#333"/>
<rect x="554" y="461.5" width="1.3" height="4.5" fill="#333"/>
<g transform="translate(554.7 430.8) rotate(-180.0) scale(1.14)"><rect x="-3.3" y="-3.5" width="6.6" height="6.2" rx="1.5" fill="#fdfdfd" stroke="#6a6a6a" stroke-width="0.45"/><path d="M-5 -2.8 V2.2 Q-5 4.5 -2.8 4.5 H2.8 Q5 4.5 5 2.2 V-2.8" fill="none" stroke="#444" stroke-width="0.55"/><path d="M-4.1 -2.8 V2 Q-4.1 3.6 -2.6 3.6 H2.6 Q4.1 3.6 4.1 2 V-2.8" fill="none" stroke="#8a8a8a" stroke-width="0.4"/><path d="M-5.2 -2.8 H-3.9 M5.2 -2.8 H3.9" stroke="#222" stroke-width="0.8"/></g>
<g transform="translate(542.0 443.6) rotate(90.0) scale(1.14)"><rect x="-3.3" y="-3.5" width="6.6" height="6.2" rx="1.5" fill="#fdfdfd" stroke="#6a6a6a" stroke-width="0.45"/><path d="M-5 -2.8 V2.2 Q-5 4.5 -2.8 4.5 H2.8 Q5 4.5 5 2.2 V-2.8" fill="none" stroke="#444" stroke-width="0.55"/><path d="M-4.1 -2.8 V2 Q-4.1 3.6 -2.6 3.6 H2.6 Q4.1 3.6 4.1 2 V-2.8" fill="none" stroke="#8a8a8a" stroke-width="0.4"/><path d="M-5.2 -2.8 H-3.9 M5.2 -2.8 H3.9" stroke="#222" stroke-width="0.8"/></g>
<g transform="translate(542.0 463.8) rotate(90.0) scale(1.14)"><rect x="-3.3" y="-3.5" width="6.6" height="6.2" rx="1.5" fill="#fdfdfd" stroke="#6a6a6a" stroke-width="0.45"/><path d="M-5 -2.8 V2.2 Q-5 4.5 -2.8 4.5 H2.8 Q5 4.5 5 2.2 V-2.8" fill="none" stroke="#444" stroke-width="0.55"/><path d="M-4.1 -2.8 V2 Q-4.1 3.6 -2.6 3.6 H2.6 Q4.1 3.6 4.1 2 V-2.8" fill="none" stroke="#8a8a8a" stroke-width="0.4"/><path d="M-5.2 -2.8 H-3.9 M5.2 -2.8 H3.9" stroke="#222" stroke-width="0.8"/></g>
<g transform="translate(554.7 476.8) rotate(0.0) scale(1.14)"><rect x="-3.3" y="-3.5" width="6.6" height="6.2" rx="1.5" fill="#fdfdfd" stroke="#6a6a6a" stroke-width="0.45"/><path d="M-5 -2.8 V2.2 Q-5 4.5 -2.8 4.5 H2.8 Q5 4.5 5 2.2 V-2.8" fill="none" stroke="#444" stroke-width="0.55"/><path d="M-4.1 -2.8 V2 Q-4.1 3.6 -2.6 3.6 H2.6 Q4.1 3.6 4.1 2 V-2.8" fill="none" stroke="#8a8a8a" stroke-width="0.4"/><path d="M-5.2 -2.8 H-3.9 M5.2 -2.8 H3.9" stroke="#222" stroke-width="0.8"/></g>
<circle cx="452.2" cy="552.3" r="4.4" fill="#fdfdfd" stroke="#4a4a4a" stroke-width="0.8"/><circle cx="452.2" cy="552.3" r="3.2" fill="none" stroke="#8a8a8a" stroke-width="0.5"/>
<circle cx="449.1" cy="540.4" r="4.4" fill="#fdfdfd" stroke="#4a4a4a" stroke-width="0.8"/><circle cx="449.1" cy="540.4" r="3.2" fill="none" stroke="#8a8a8a" stroke-width="0.5"/>
<circle cx="446.7" cy="528.2" r="4.4" fill="#fdfdfd" stroke="#4a4a4a" stroke-width="0.8"/><circle cx="446.7" cy="528.2" r="3.2" fill="none" stroke="#8a8a8a" stroke-width="0.5"/>
<circle cx="445.5" cy="515.4" r="4.4" fill="#fdfdfd" stroke="#4a4a4a" stroke-width="0.8"/><circle cx="445.5" cy="515.4" r="3.2" fill="none" stroke="#8a8a8a" stroke-width="0.5"/>
<circle cx="446.2" cy="502.5" r="4.4" fill="#fdfdfd" stroke="#4a4a4a" stroke-width="0.8"/><circle cx="446.2" cy="502.5" r="3.2" fill="none" stroke="#8a8a8a" stroke-width="0.5"/>
<circle cx="448" cy="488.7" r="4.4" fill="#fdfdfd" stroke="#4a4a4a" stroke-width="0.8"/><circle cx="448" cy="488.7" r="3.2" fill="none" stroke="#8a8a8a" stroke-width="0.5"/>
<circle cx="454" cy="475.7" r="4.4" fill="#fdfdfd" stroke="#4a4a4a" stroke-width="0.8"/><circle cx="454" cy="475.7" r="3.2" fill="none" stroke="#8a8a8a" stroke-width="0.5"/>
<circle cx="464.1" cy="465.7" r="4.4" fill="#fdfdfd" stroke="#4a4a4a" stroke-width="0.8"/><circle cx="464.1" cy="465.7" r="3.2" fill="none" stroke="#8a8a8a" stroke-width="0.5"/>
<circle cx="477.5" cy="460.5" r="4.4" fill="#fdfdfd" stroke="#4a4a4a" stroke-width="0.8"/><circle cx="477.5" cy="460.5" r="3.2" fill="none" stroke="#8a8a8a" stroke-width="0.5"/>
<circle cx="491.1" cy="460.1" r="4.4" fill="#fdfdfd" stroke="#4a4a4a" stroke-width="0.8"/><circle cx="491.1" cy="460.1" r="3.2" fill="none" stroke="#8a8a8a" stroke-width="0.5"/>
<circle cx="503.8" cy="463.4" r="4.4" fill="#fdfdfd" stroke="#4a4a4a" stroke-width="0.8"/><circle cx="503.8" cy="463.4" r="3.2" fill="none" stroke="#8a8a8a" stroke-width="0.5"/>
<circle cx="515" cy="469.7" r="4.4" fill="#fdfdfd" stroke="#4a4a4a" stroke-width="0.8"/><circle cx="515" cy="469.7" r="3.2" fill="none" stroke="#8a8a8a" stroke-width="0.5"/>
<circle cx="525.9" cy="476.8" r="4.4" fill="#fdfdfd" stroke="#4a4a4a" stroke-width="0.8"/><circle cx="525.9" cy="476.8" r="3.2" fill="none" stroke="#8a8a8a" stroke-width="0.5"/>
<circle cx="535.5" cy="485.3" r="4.4" fill="#fdfdfd" stroke="#4a4a4a" stroke-width="0.8"/><circle cx="535.5" cy="485.3" r="3.2" fill="none" stroke="#8a8a8a" stroke-width="0.5"/>
<circle cx="544" cy="494.7" r="4.4" fill="#fdfdfd" stroke="#4a4a4a" stroke-width="0.8"/><circle cx="544" cy="494.7" r="3.2" fill="none" stroke="#8a8a8a" stroke-width="0.5"/>
<circle cx="551.6" cy="505.4" r="4.4" fill="#fdfdfd" stroke="#4a4a4a" stroke-width="0.8"/><circle cx="551.6" cy="505.4" r="3.2" fill="none" stroke="#8a8a8a" stroke-width="0.5"/>
<circle cx="558" cy="516.6" r="4.4" fill="#fdfdfd" stroke="#4a4a4a" stroke-width="0.8"/><circle cx="558" cy="516.6" r="3.2" fill="none" stroke="#8a8a8a" stroke-width="0.5"/>
<circle cx="562.7" cy="528.8" r="4.4" fill="#fdfdfd" stroke="#4a4a4a" stroke-width="0.8"/><circle cx="562.7" cy="528.8" r="3.2" fill="none" stroke="#8a8a8a" stroke-width="0.5"/>
<circle cx="565.2" cy="541.6" r="4.4" fill="#fdfdfd" stroke="#4a4a4a" stroke-width="0.8"/><circle cx="565.2" cy="541.6" r="3.2" fill="none" stroke="#8a8a8a" stroke-width="0.5"/>
<circle cx="564.5" cy="553.8" r="4.4" fill="#fdfdfd" stroke="#4a4a4a" stroke-width="0.8"/><circle cx="564.5" cy="553.8" r="3.2" fill="none" stroke="#8a8a8a" stroke-width="0.5"/>
<path d="M458.5 556.0 C457.7 552.5 454.7 543.2 453.5 535.0 C452.3 526.8 451.0 515.4 451.3 507.0 C451.6 498.6 452.1 490.9 455.1 484.6 C458.2 478.3 464.2 472.3 469.6 469.0 C475.0 465.7 481.2 464.4 487.5 465.0 C493.8 465.6 500.2 468.0 507.6 472.4 C515.0 476.8 525.0 484.1 532.1 491.3 C539.2 498.6 545.5 508.1 550.0 515.9 C554.5 523.7 557.4 530.8 558.9 538.2 C560.4 545.6 558.9 556.8 558.9 560.5 L536.6 556.0 C536.2 552.7 536.6 543.0 534.4 536.0 C532.2 529.0 528.0 520.6 523.2 513.7 C518.4 506.8 511.3 499.2 505.4 494.7 C499.4 490.2 492.4 487.6 487.5 486.9 C482.6 486.1 478.9 487.2 476.3 490.2 C473.7 493.2 472.4 498.2 471.9 504.7 C471.3 511.2 471.9 521.8 473.0 529.3 C474.1 536.8 477.7 546.0 478.6 549.4 Z" fill="#fdfdfd" stroke="#333" stroke-width="0.8"/>
<path d="M461.5 553.0 C460.8 549.8 458.1 541.7 457.0 534.0 C455.9 526.3 454.7 514.9 455.0 507.0 C455.3 499.1 455.9 492.2 458.6 486.5 C461.4 480.8 466.7 475.4 471.5 472.5 C476.3 469.6 481.8 468.3 487.5 468.8 C493.2 469.3 499.0 471.4 506.0 475.6 C513.0 479.8 522.7 486.8 529.5 493.8 C536.3 500.8 542.7 510.0 547.0 517.5 C551.3 525.0 553.9 532.1 555.3 539.0 C556.7 545.9 555.3 555.7 555.3 559.0" fill="none" stroke="#777" stroke-width="0.45" stroke-dasharray="2.2 1.3"/>
<path d="M493.0 526.0 C494.6 523.4 498.6 520.4 502.0 520.4 C505.4 520.4 510.5 523.0 513.2 526.0 C515.9 529.0 517.9 534.1 518.3 538.2 C518.7 542.3 517.4 547.7 515.4 550.5 C513.4 553.3 509.5 555.6 506.5 555.0 C503.5 554.4 499.9 550.3 497.5 547.1 C495.1 543.9 493.1 539.5 492.4 536.0 C491.6 532.5 491.4 528.6 493.0 526.0 Z" fill="#fdfdfd" stroke="#333" stroke-width="0.8"/>
<path d="M432.8 576.5 Q438.8 573 444.8 576.5 M432.8 578.5 H444.8 M438.8 574.5 V583 M433.3 583 H444.3" fill="none" stroke="#777" stroke-width="0.55"/>
<path d="M448 577 Q454 580 460 577 M454 578.5 V583 M448.5 583 H459.5" fill="none" stroke="#777" stroke-width="0.55"/>
<path d="M463.6 576.5 Q469.6 573 475.6 576.5 M463.6 578.5 H475.6 M469.6 574.5 V583 M464.1 583 H475.1" fill="none" stroke="#777" stroke-width="0.55"/>
<path d="M479.7 577 Q485.7 580 491.7 577 M485.7 578.5 V583 M480.2 583 H491.2" fill="none" stroke="#777" stroke-width="0.55"/>
<path d="M496 576.5 Q502 573 508 576.5 M496 578.5 H508 M502 574.5 V583 M496.5 583 H507.5" fill="none" stroke="#777" stroke-width="0.55"/>
<path d="M511.6 577 Q517.6 580 523.6 577 M517.6 578.5 V583 M512.1 583 H523.1" fill="none" stroke="#777" stroke-width="0.55"/>
<path d="M527.7 576.5 Q533.7 573 539.7 576.5 M527.7 578.5 H539.7 M533.7 574.5 V583 M528.2 583 H539.2" fill="none" stroke="#777" stroke-width="0.55"/>
<path d="M543.3 577 Q549.3 580 555.3 577 M549.3 578.5 V583 M543.8 583 H554.8" fill="none" stroke="#777" stroke-width="0.55"/>
<path d="M559 576.5 Q565 573 571 576.5 M559 578.5 H571 M565 574.5 V583 M559.5 583 H570.5" fill="none" stroke="#777" stroke-width="0.55"/>
<path d="M426 583.2 H580" stroke="#bbb" stroke-width="0.4"/>
</svg>
<div class="t" id="title">План гастротеатра</div>
<div class="t h" id="h1" style="left:65px;top:530px">Малый зал</div>
<div class="t p" id="p1" style="left:65px;top:554.3px">88 м2</div>
<div class="t p" id="p2" style="left:65px;top:597.7px">Зал, где проводится<br>спектакль<br>Вместимость: 20 персон</div>
<div class="t h" id="h2" style="left:633.3px;top:314px">Большой зал</div>
<div class="t p" id="p3" style="left:633.3px;top:338.5px">299 м2</div>
<div class="t p" id="p4" style="left:633.3px;top:382px">Welcome-зона<br>Вместимость: 40<br>персон</div>
</body></html>
